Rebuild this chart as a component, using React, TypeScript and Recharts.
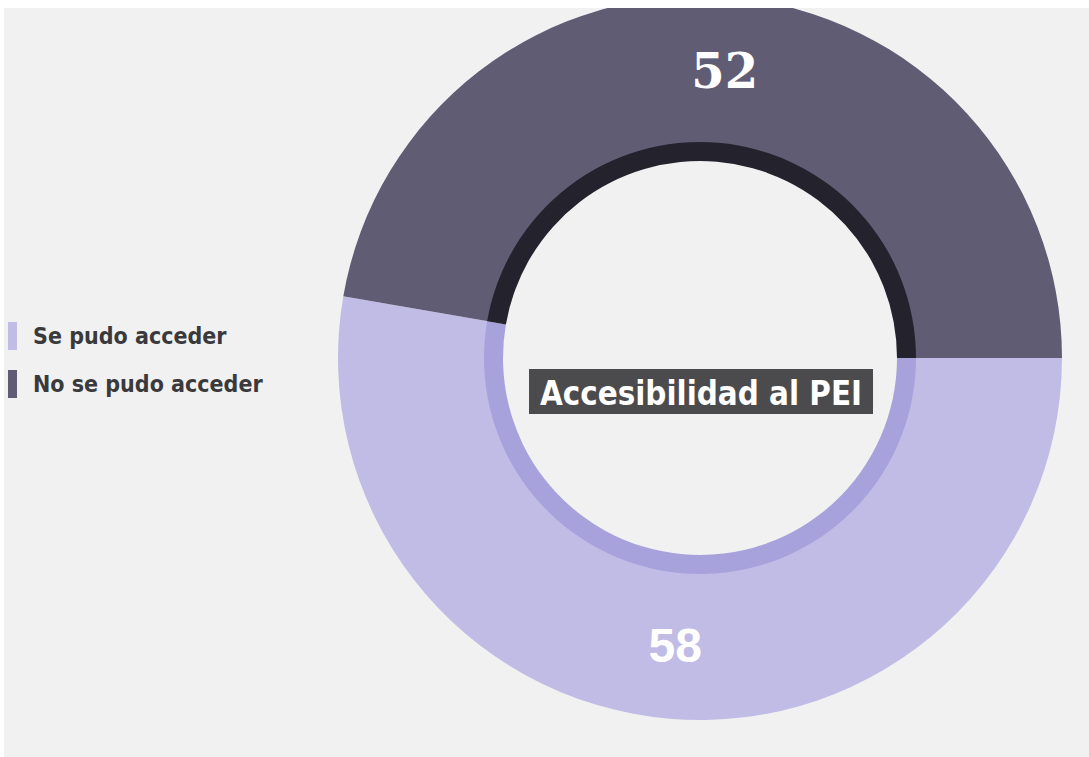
import React from "react";
import { PieChart, Pie, Cell } from "recharts";

const categories = ["Se pudo acceder", "No se pudo acceder"];
const values = [58, 52];
const colors = ["#c0bce6", "#5f5c74"];
const ringColors = ["#a7a2dc", "#24222c"];
const title = "Accesibilidad al PEI";

const data = categories.map((name, i) => ({ name, value: values[i] }));
const total = values.reduce((a, b) => a + b, 0);
// first slice (light) ends at 0°, dark slice covers the top
const startAngle = 360 - (values[0] / total) * 360;
const RAD = Math.PI / 180;
const CX = 696;
const CY = 350;

const renderValue = (props: any) => {
  const { cx, cy, midAngle, innerRadius, outerRadius, value, index } = props;
  const r = (innerRadius + outerRadius) / 2;
  const x = cx + r * Math.cos(-midAngle * RAD);
  const y = cy + r * Math.sin(-midAngle * RAD);
  return (
    <text
      x={x}
      y={y}
      fill="#ffffff"
      textAnchor="middle"
      dominantBaseline="central"
      fontSize={48}
      fontWeight="bold"
      fontFamily={index === 1 ? "DejaVu Serif" : "Liberation Sans"}
    >
      {value}
    </text>
  );
};

export default function App() {
  return (
    <div
      style={{
        position: "fixed",
        left: 4,
        top: 8,
        width: 1085,
        height: 749,
        background: "#f1f1f1",
        overflow: "hidden",
      }}
    >
      <PieChart width={1085} height={749} margin={{ top: 0, right: 0, bottom: 0, left: 0 }}>
        <Pie
          data={data}
          dataKey="value"
          nameKey="name"
          cx={CX}
          cy={CY}
          innerRadius={215}
          outerRadius={362}
          startAngle={startAngle}
          endAngle={startAngle + 360}
          stroke="none"
          label={renderValue}
          labelLine={false}
          isAnimationActive={false}
        >
          {data.map((d, i) => (
            <Cell key={d.name} fill={colors[i]} />
          ))}
        </Pie>
        <Pie
          data={data}
          dataKey="value"
          cx={CX}
          cy={CY}
          innerRadius={197}
          outerRadius={216}
          startAngle={startAngle}
          endAngle={startAngle + 360}
          stroke="none"
          legendType="none"
          isAnimationActive={false}
        >
          {data.map((d, i) => (
            <Cell key={d.name} fill={ringColors[i]} />
          ))}
        </Pie>
      </PieChart>
      <svg
        width={344}
        height={45}
        style={{ position: "absolute", left: CX - 171, top: CY + 11 }}
      >
        <rect x={0} y={0} width={344} height={45} fill="#4b4b4d" />
        <text
          x={172}
          y={24}
          fill="#ffffff"
          textAnchor="middle"
          dominantBaseline="central"
          fontSize={34}
          fontWeight="bold"
          fontFamily="DejaVu Sans Condensed"
          textLength={322}
          lengthAdjust="spacingAndGlyphs"
        >
          {title}
        </text>
      </svg>
      <div
        style={{
          position: "absolute",
          left: 4,
          top: 304,
          fontFamily: "DejaVu Sans Condensed",
          fontSize: 23,
          fontWeight: 600,
          color: "#3a3a3c",
        }}
      >
        {categories.map((c, i) => (
          <div key={c} style={{ display: "flex", alignItems: "center", height: 48 }}>
            <span
              style={{
                display: "inline-block",
                width: 9,
                height: 28,
                background: colors[i],
                marginRight: 16,
              }}
            />
            <span>{c}</span>
          </div>
        ))}
      </div>
    </div>
  );
}
